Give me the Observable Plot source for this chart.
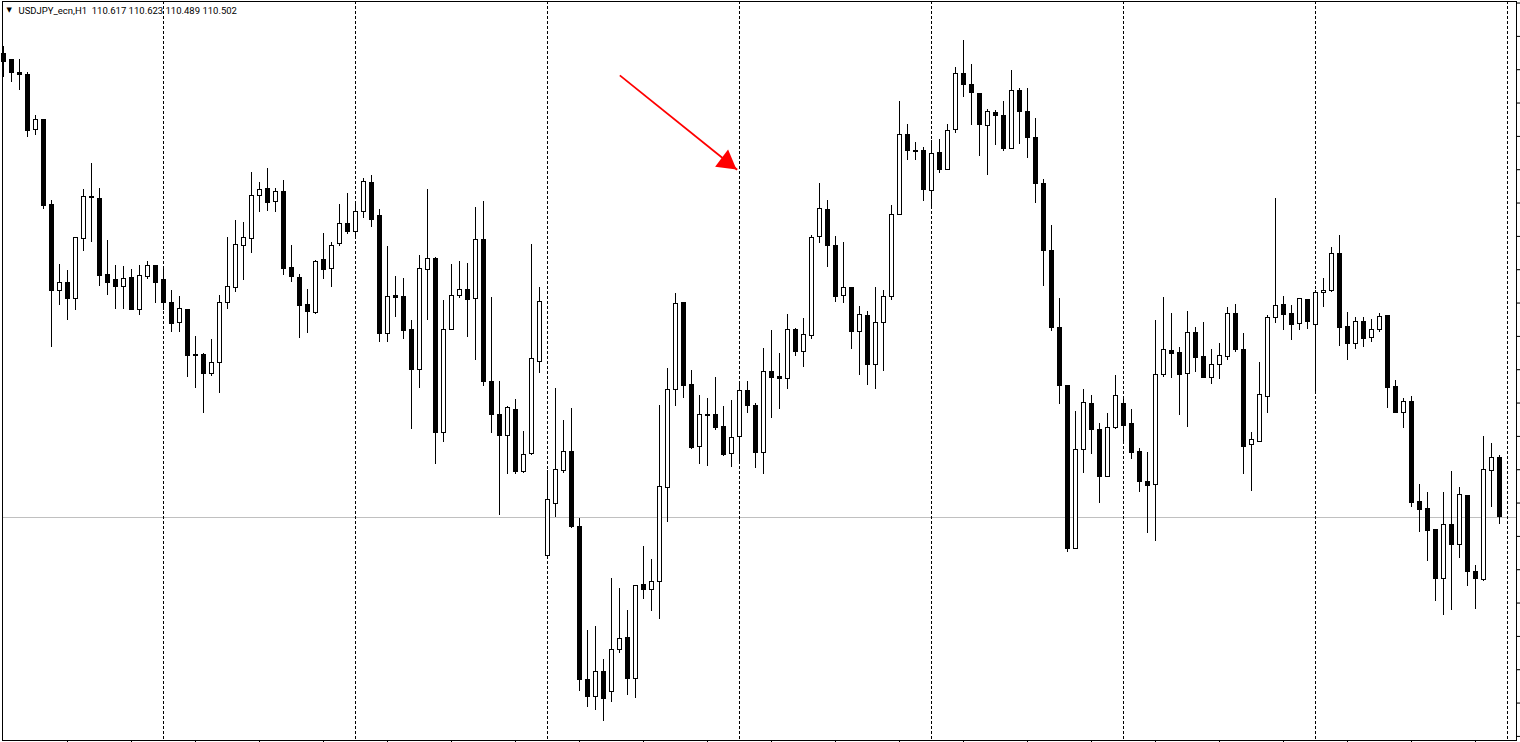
<!DOCTYPE html>
<html>
<head>
<meta charset="utf-8">
<script src="https://cdn.jsdelivr.net/npm/d3@7"></script>
<script src="https://cdn.jsdelivr.net/npm/@observablehq/plot@0.6"></script>
<style>
  html, body { margin: 0; padding: 0; background: #ffffff; overflow: hidden; }
  #chart svg { display: block; }
</style>
</head>
<body>
<div id="chart"></div>
<script>
// ---- Data (USDJPY_ecn, H1 candles) ----
const symbolName = "USDJPY_ecn,H1";

const open = [
111.405, 111.393, 111.368, 111.364, 111.258, 111.276, 111.112, 110.943, 110.960, 110.927,
111.044, 111.126, 111.122, 110.974, 110.964, 110.952, 110.968, 110.907, 110.970, 110.993,
110.964, 110.921, 110.882, 110.906, 110.818, 110.818, 110.781, 110.804, 110.921, 110.950,
111.032, 111.044, 111.128, 111.143, 111.118, 111.136, 110.989, 110.968, 110.917, 110.900,
111.003, 110.987, 111.036, 111.075, 111.058, 111.097, 111.155, 111.089, 110.859, 110.933,
110.931, 110.868, 110.790, 110.985, 111.005, 110.666, 110.868, 110.933, 110.946, 110.927,
111.042, 110.767, 110.701, 110.660, 110.712, 110.590, 110.625, 110.806, 110.426, 110.529,
110.592, 110.629, 110.484, 110.184, 110.151, 110.200, 110.161, 110.244, 110.266, 110.186,
110.371, 110.360, 110.377, 110.560, 110.750, 110.921, 110.761, 110.640, 110.701, 110.701,
110.679, 110.625, 110.658, 110.748, 110.720, 110.627, 110.785, 110.775, 110.771, 110.868,
110.824, 110.855, 111.048, 111.102, 111.032, 110.933, 110.950, 110.863, 110.894, 110.800,
110.882, 110.931, 111.091, 111.247, 111.216, 111.216, 111.138, 111.212, 111.180, 111.258,
111.366, 111.346, 111.327, 111.266, 111.290, 111.284, 111.221, 111.333, 111.292, 111.241,
111.153, 111.021, 110.872, 110.759, 110.441, 110.634, 110.724, 110.672, 110.580, 110.677,
110.724, 110.685, 110.629, 110.572, 110.566, 110.779, 110.826, 110.822, 110.781, 110.861,
110.814, 110.773, 110.800, 110.814, 110.898, 110.829, 110.644, 110.650, 110.736, 110.890,
110.917, 110.898, 110.880, 110.925, 110.878, 110.939, 110.943, 111.015, 110.874, 110.841,
110.884, 110.851, 110.868, 110.894, 110.757, 110.705, 110.728, 110.533, 110.519, 110.477,
110.381, 110.488, 110.449, 110.543, 110.395, 110.379, 110.592, 110.617
];

const high = [
111.420, 111.393, 111.395, 111.370, 111.286, 111.277, 111.120, 110.995, 110.984, 111.048,
111.141, 111.192, 111.143, 111.042, 110.993, 110.991, 110.985, 110.993, 111.001, 110.994,
110.991, 110.945, 110.933, 110.907, 110.855, 110.822, 110.849, 110.935, 111.048, 111.081,
111.077, 111.175, 111.155, 111.182, 111.143, 111.159, 111.032, 110.976, 110.946, 111.003,
111.056, 111.038, 111.112, 111.134, 111.118, 111.163, 111.169, 111.102, 111.030, 110.972,
110.968, 110.886, 111.013, 111.141, 111.009, 110.925, 110.995, 111.001, 110.997, 111.106,
111.118, 110.931, 110.767, 110.718, 110.732, 110.670, 111.034, 110.950, 110.594, 110.753,
110.691, 110.714, 110.500, 110.282, 110.289, 110.225, 110.383, 110.363, 110.321, 110.370,
110.445, 110.420, 110.720, 110.792, 110.939, 110.922, 110.789, 110.740, 110.734, 110.775,
110.718, 110.730, 110.761, 110.767, 110.724, 110.831, 110.867, 110.822, 110.898, 110.870,
110.890, 111.052, 111.153, 111.120, 111.050, 111.038, 110.951, 110.913, 110.904, 110.950,
110.945, 111.110, 111.313, 111.268, 111.233, 111.223, 111.237, 111.239, 111.268, 111.379,
111.432, 111.385, 111.328, 111.297, 111.296, 111.313, 111.374, 111.338, 111.338, 111.280,
111.161, 111.071, 110.929, 110.760, 110.709, 110.751, 110.740, 110.685, 110.705, 110.779,
110.734, 110.712, 110.636, 110.629, 110.886, 110.931, 110.900, 110.833, 110.904, 110.872,
110.882, 110.829, 110.841, 110.911, 110.917, 110.861, 110.668, 110.804, 110.896, 111.124,
110.933, 110.915, 110.929, 110.927, 110.945, 110.968, 111.028, 111.052, 110.902, 110.892,
110.892, 110.888, 110.900, 110.896, 110.769, 110.734, 110.738, 110.566, 110.551, 110.478,
110.551, 110.592, 110.560, 110.545, 110.408, 110.660, 110.646, 110.623
];

const low = [
111.360, 111.350, 111.335, 111.243, 111.247, 111.102, 110.833, 110.915, 110.886, 110.906,
111.021, 111.038, 110.952, 110.935, 110.907, 110.907, 110.905, 110.896, 110.966, 110.919,
110.906, 110.863, 110.863, 110.775, 110.753, 110.705, 110.777, 110.744, 110.907, 110.941,
110.964, 111.017, 111.097, 111.099, 111.097, 110.974, 110.960, 110.851, 110.861, 110.898,
110.966, 110.950, 111.030, 111.054, 111.044, 111.085, 111.067, 110.843, 110.843, 110.892,
110.849, 110.673, 110.753, 110.886, 110.605, 110.648, 110.866, 110.929, 110.853, 110.808,
110.757, 110.666, 110.506, 110.586, 110.586, 110.588, 110.622, 110.783, 110.425, 110.502,
110.588, 110.480, 110.163, 110.131, 110.126, 110.104, 110.141, 110.237, 110.155, 110.149,
110.342, 110.319, 110.303, 110.492, 110.718, 110.734, 110.634, 110.605, 110.601, 110.672,
110.621, 110.599, 110.609, 110.705, 110.597, 110.586, 110.695, 110.712, 110.751, 110.816,
110.794, 110.849, 111.036, 110.989, 110.921, 110.919, 110.829, 110.779, 110.759, 110.751,
110.787, 110.925, 111.090, 111.198, 111.198, 111.118, 111.104, 111.173, 111.178, 111.251,
111.321, 111.266, 111.206, 111.169, 111.227, 111.216, 111.219, 111.229, 111.202, 111.114,
110.952, 110.865, 110.722, 110.434, 110.439, 110.588, 110.625, 110.529, 110.579, 110.673,
110.646, 110.615, 110.551, 110.471, 110.455, 110.775, 110.773, 110.701, 110.677, 110.785,
110.772, 110.761, 110.771, 110.808, 110.824, 110.586, 110.553, 110.648, 110.705, 110.880,
110.867, 110.847, 110.867, 110.868, 110.742, 110.911, 110.941, 110.835, 110.808, 110.829,
110.833, 110.843, 110.863, 110.714, 110.704, 110.675, 110.521, 110.473, 110.416, 110.338,
110.311, 110.321, 110.422, 110.367, 110.322, 110.377, 110.521, 110.489
];

const close = [
111.391, 111.368, 111.364, 111.255, 111.276, 111.110, 110.943, 110.960, 110.927, 111.046,
111.126, 111.124, 110.972, 110.960, 110.952, 110.966, 110.907, 110.972, 110.993, 110.960,
110.921, 110.880, 110.909, 110.816, 110.816, 110.781, 110.804, 110.921, 110.952, 111.034,
111.046, 111.128, 111.141, 111.116, 111.136, 110.987, 110.970, 110.915, 110.902, 111.001,
110.985, 111.032, 111.075, 111.058, 111.097, 111.157, 111.081, 110.859, 110.931, 110.929,
110.865, 110.789, 110.987, 111.005, 110.666, 110.867, 110.933, 110.946, 110.925, 111.042,
110.767, 110.701, 110.660, 110.716, 110.590, 110.623, 110.810, 110.923, 110.535, 110.594,
110.629, 110.484, 110.184, 110.151, 110.200, 110.147, 110.244, 110.264, 110.186, 110.369,
110.360, 110.377, 110.562, 110.751, 110.919, 110.759, 110.638, 110.701, 110.700, 110.677,
110.623, 110.656, 110.748, 110.720, 110.627, 110.785, 110.773, 110.771, 110.867, 110.824,
110.857, 111.046, 111.104, 111.032, 110.931, 110.950, 110.863, 110.896, 110.800, 110.882,
110.931, 111.091, 111.247, 111.216, 111.214, 111.141, 111.210, 111.180, 111.255, 111.366,
111.346, 111.329, 111.268, 111.292, 111.284, 111.221, 111.333, 111.292, 111.241, 111.153,
111.021, 110.872, 110.759, 110.441, 110.634, 110.726, 110.672, 110.580, 110.677, 110.738,
110.681, 110.627, 110.572, 110.564, 110.779, 110.828, 110.820, 110.779, 110.861, 110.812,
110.773, 110.800, 110.816, 110.898, 110.828, 110.640, 110.652, 110.740, 110.890, 110.915,
110.896, 110.878, 110.927, 110.884, 110.939, 110.943, 111.015, 110.872, 110.841, 110.884,
110.849, 110.868, 110.892, 110.755, 110.705, 110.728, 110.531, 110.517, 110.475, 110.381,
110.488, 110.449, 110.545, 110.395, 110.381, 110.594, 110.617, 110.502
];

// bar indices where a new trading day starts (period separators)
const daySeparators = [20, 44, 68, 92, 116, 140, 164, 188];
// time-axis tick bars (every 8 bars)
const timeTicks = [8, 16, 24, 32, 40, 48, 56, 64, 72, 80, 88, 96, 104, 112, 120, 128, 136, 144, 152, 160, 168, 176, 184];
// price-axis tick values (labels fall outside the picture)
const priceTicks = [110.075, 110.140, 110.205, 110.270, 110.335, 110.400, 110.465, 110.530, 110.595, 110.660,
  110.725, 110.790, 110.855, 110.920, 110.985, 111.050, 111.115, 111.180, 111.245, 111.310, 111.375, 111.440, 111.505];
// hand-drawn red arrow (bar index, price)
const arrowStart = {i: 77.04, price: 111.364};
const arrowEnd = {i: 91.71, price: 111.180};

// ---- Build ----
const bars = open.map((o, i) => ({i, o, h: high[i], l: low[i], c: close[i]}));
const upBars = bars.filter(d => d.c > d.o);
const downBars = bars.filter(d => d.c <= d.o);
const last = bars[bars.length - 1];
const header = symbolName + "\u00a0\u00a0" + [last.o, last.h, last.l, last.c].map(v => v.toFixed(3)).join(" ");

const chart = Plot.plot({
  width: 1520,
  height: 742,
  marginLeft: 2,
  marginRight: 4,
  marginTop: 1,
  marginBottom: 2,
  style: {background: "#ffffff", overflow: "visible"},
  x: {type: "linear", domain: [-0.125, 189.125], axis: null},
  y: {type: "linear", domain: [110.067, 111.508], axis: null},
  marks: [
    Plot.ruleY([last.c], {stroke: "#c0c0c0", strokeWidth: 1, shapeRendering: "crispEdges"}),
    Plot.ruleX(daySeparators, {stroke: "#000000", strokeDasharray: "3,2", strokeWidth: 1, shapeRendering: "crispEdges"}),
    Plot.ruleX(bars, {x: "i", y1: "l", y2: "h", stroke: "#000000", strokeWidth: 1, shapeRendering: "crispEdges"}),
    Plot.rect(downBars, {x1: d => d.i - 0.25, x2: d => d.i + 0.25, y1: "o", y2: "c", fill: "#000000", stroke: "#000000", strokeWidth: 1, shapeRendering: "crispEdges"}),
    Plot.rect(upBars, {x1: d => d.i - 0.25, x2: d => d.i + 0.25, y1: "o", y2: "c", fill: "#ffffff", stroke: "#000000", strokeWidth: 1, shapeRendering: "crispEdges"}),
    Plot.link([{x1: arrowStart.i, y1: arrowStart.price, x2: arrowEnd.i, y2: arrowEnd.price}],
      {x1: "x1", y1: "y1", x2: "x2", y2: "y2", stroke: "#ff0000", strokeWidth: 1.8}),
    Plot.dot([arrowEnd], {x: "i", y: "price", symbol: "triangle", r: 8, fill: "#ff0000", stroke: "none", rotate: 127, dx: -10.6, dy: -7.8}),
    Plot.frame({stroke: "#000000", strokeWidth: 1}),
    Plot.axisY(priceTicks, {anchor: "right", tickSize: 3, tickFormat: () => "", label: null, stroke: "#000000"}),
    Plot.axisX(timeTicks, {anchor: "bottom", tickSize: 2, tickFormat: () => "", label: null, stroke: "#000000"}),
    Plot.text(["\u25BC"], {frameAnchor: "top-left", dx: 4, dy: 6, textAnchor: "start", lineAnchor: "top", fontSize: 7, fontFamily: "DejaVu Sans", fill: "#000000"}),
    Plot.text([header], {frameAnchor: "top-left", dx: 16, dy: 6, textAnchor: "start", lineAnchor: "top", fontSize: 9.5, fontFamily: "Roboto", fill: "#000000"})
  ]
});
document.getElementById("chart").appendChild(chart);
</script>
</body>
</html>
